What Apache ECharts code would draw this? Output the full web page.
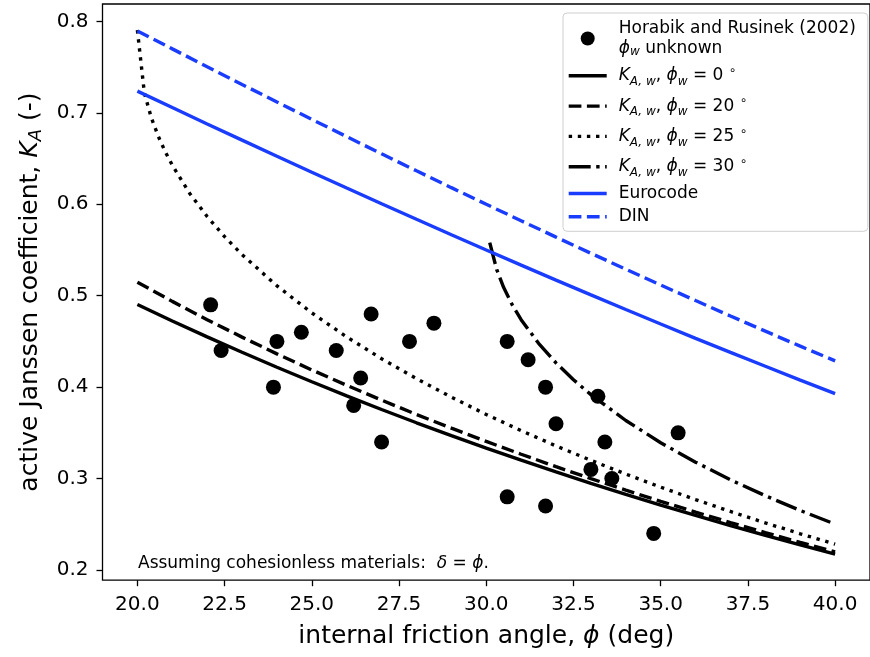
<!DOCTYPE html>
<html>
<head>
<meta charset="utf-8">
<script src="https://cdn.jsdelivr.net/npm/echarts@6/dist/echarts.min.js"></script>
<style>
  html, body { margin: 0; padding: 0; background: #fff; }
  #chart { width: 870px; height: 657px; }
</style>
</head>
<body>
<div id="chart"></div>
<script>
// Measured active Janssen coefficients (Horabik & Rusinek 2002)
const phiObs = [22.1, 22.4, 23.9, 24.0, 24.7, 25.7, 26.4, 26.2, 26.7, 27.0, 27.8, 28.5,
                30.6, 31.2, 31.7, 32.0, 33.2, 33.4, 33.0, 33.6, 30.6, 31.7, 34.8, 35.5];
const kObs   = [0.49, 0.44, 0.40, 0.45, 0.46, 0.44, 0.41, 0.38, 0.48, 0.34, 0.45, 0.47,
                0.45, 0.43, 0.40, 0.36, 0.39, 0.34, 0.31, 0.30, 0.28, 0.27, 0.24, 0.35];

// Friction angles shared by the smooth curves
const phiGrid = [20, 21, 22, 23, 24, 25, 26, 27, 28, 29, 30, 31, 32, 33, 34, 35, 36, 37, 38, 39, 40];
const kWall0  = [0.4903, 0.4724, 0.4550, 0.4381, 0.4217, 0.4059, 0.3905, 0.3755, 0.3610, 0.3470, 0.3333,
                 0.3201, 0.3073, 0.2948, 0.2827, 0.2710, 0.2596, 0.2486, 0.2379, 0.2275, 0.2174];
const kWall20 = [0.5148, 0.4938, 0.4738, 0.4547, 0.4364, 0.4188, 0.4020, 0.3858, 0.3701, 0.3551, 0.3406,
                 0.3266, 0.3130, 0.2999, 0.2873, 0.2751, 0.2633, 0.2519, 0.2408, 0.2301, 0.2198];
const kEuro   = [0.7238, 0.7058, 0.6879, 0.6702, 0.6526, 0.6351, 0.6178, 0.6006, 0.5836, 0.5667, 0.5500,
                 0.5335, 0.5171, 0.5009, 0.4849, 0.4691, 0.4534, 0.4380, 0.4228, 0.4077, 0.3929];
const kDin    = [0.7896, 0.7700, 0.7505, 0.7311, 0.7119, 0.6929, 0.6740, 0.6552, 0.6366, 0.6182, 0.6000,
                 0.5820, 0.5641, 0.5464, 0.5290, 0.5117, 0.4947, 0.4778, 0.4612, 0.4448, 0.4287];

const phiWall25 = [20, 20.2, 20.4, 20.6, 20.8, 21, 21.5, 22, 22.5, 23, 24, 25, 26, 27, 28, 29, 30,
                   31, 32, 33, 34, 35, 36, 37, 38, 39, 40];
const kWall25   = [0.7905, 0.7218, 0.6946, 0.6743, 0.6574, 0.6427, 0.6119, 0.5866, 0.5646, 0.5450,
                   0.5108, 0.4812, 0.4549, 0.4311, 0.4093, 0.3890, 0.3701, 0.3524, 0.3357, 0.3199,
                   0.3049, 0.2906, 0.2770, 0.2640, 0.2515, 0.2396, 0.2282];

const phiWall30 = [30.1, 30.3, 30.5, 30.75, 31, 31.5, 32, 32.5, 33, 34, 35, 36, 37, 38, 39, 40];
const kWall30   = [0.5580, 0.5286, 0.5089, 0.4897, 0.4738, 0.4479, 0.4265, 0.4081, 0.3918,
                   0.3635, 0.3392, 0.3179, 0.2986, 0.2812, 0.2651, 0.2501];

const xTicks = [20, 22.5, 25, 27.5, 30, 32.5, 35, 37.5, 40];
const yTicks = [0.2, 0.3, 0.4, 0.5, 0.6, 0.7, 0.8];

const FONT = 'DejaVu Sans';
const BLUE = '#1a3cff';
const LW = 3.4;

const pairs = (xs, ys) => xs.map((x, i) => [x, ys[i]]);

const names = ['obs', 'w0', 'w20', 'w25', 'w30', 'euro', 'din'];
const legendText = {
  obs:  '{h|Horabik and Rusinek (2002)}\n{ih|ϕ}{sh|w}{h| unknown}',
  w0:   '{i|K}{s|A, w}{t|, }{i|ϕ}{s|w}{t| = 0 }{sup|∘}',
  w20:  '{i|K}{s|A, w}{t|, }{i|ϕ}{s|w}{t| = 20 }{sup|∘}',
  w25:  '{i|K}{s|A, w}{t|, }{i|ϕ}{s|w}{t| = 25 }{sup|∘}',
  w30:  '{i|K}{s|A, w}{t|, }{i|ϕ}{s|w}{t| = 30 }{sup|∘}',
  euro: '{p|Eurocode}',
  din:  '{p|DIN}'
};

// Curves carry no point symbols; the transparent item style also keeps
// the legend key down to a plain line sample.
function lineSeries(name, xs, ys, color, dash) {
  return {
    name, type: 'line', data: pairs(xs, ys), symbol: 'none', smooth: false,
    lineStyle: { color, width: LW, type: dash, cap: 'butt', opacity: 1 },
    itemStyle: { color, opacity: 0 }, emphasis: { disabled: true }, z: 3
  };
}

const chart = echarts.init(document.getElementById('chart'), null, { renderer: 'canvas' });

chart.setOption({
  animation: false,
  textStyle: { fontFamily: FONT, color: '#000' },
  grid: {
    left: 102.5, top: 4, width: 772.6, height: 576.2,
    show: true, borderColor: '#000', borderWidth: 1.3, backgroundColor: 'transparent'
  },
  xAxis: {
    type: 'value', min: 19, max: 41,
    axisLine: { show: false },
    splitLine: { show: false },
    axisTick: { show: true, inside: false, length: 6, customValues: xTicks,
                lineStyle: { color: '#000', width: 1.3 } },
    axisLabel: { customValues: xTicks, margin: 15, fontSize: 20, fontFamily: FONT, color: '#000',
                 formatter: v => v.toFixed(1) },
    name: 'internal friction angle, {i|ϕ} (deg)',
    nameLocation: 'middle', nameGap: 44,
    nameTextStyle: { fontSize: 25, fontFamily: FONT, color: '#000',
      rich: { i: { fontSize: 25, fontStyle: 'italic', fontFamily: FONT } } }
  },
  yAxis: {
    type: 'value', min: 0.1888, max: 0.8191,
    axisLine: { show: false },
    splitLine: { show: false },
    axisTick: { show: true, inside: false, length: 6, customValues: yTicks,
                lineStyle: { color: '#000', width: 1.3 } },
    axisLabel: { customValues: yTicks, margin: 14, fontSize: 20, fontFamily: FONT, color: '#000',
                 formatter: v => v.toFixed(1) },
    name: 'active Janssen coefficient, {i|K}{s|A} (-)',
    nameLocation: 'middle', nameGap: 60, nameRotate: 90,
    nameTextStyle: { fontSize: 25, fontFamily: FONT, color: '#000',
      rich: {
        i: { fontSize: 25, fontStyle: 'italic', fontFamily: FONT },
        s: { fontSize: 18, fontStyle: 'italic', fontFamily: FONT, lineHeight: 18, padding: [12, 0, 0, 0] }
      } }
  },
  legend: {
    orient: 'vertical', left: 563, top: 13,
    itemWidth: 38, itemHeight: 14, itemGap: 6.3,
    padding: [7, 12, 6, 4],
    backgroundColor: 'rgba(255,255,255,0.8)', borderColor: '#cfcfcf', borderWidth: 1, borderRadius: 4,
    selectedMode: false,
    lineStyle: { width: LW },
    data: names,
    formatter: n => legendText[n],
    textStyle: {
      fontFamily: FONT, fontSize: 17, color: '#000', padding: [0, 0, 0, 7],
      rich: {
        h:   { fontSize: 17, lineHeight: 20, fontFamily: FONT },
        ih:  { fontSize: 17, lineHeight: 20, fontStyle: 'italic', fontFamily: FONT },
        sh:  { fontSize: 12, lineHeight: 14, fontStyle: 'italic', fontFamily: FONT, padding: [6, 0, 0, 0] },
        t:   { fontSize: 17, lineHeight: 25, fontFamily: FONT },
        i:   { fontSize: 17, lineHeight: 25, fontStyle: 'italic', fontFamily: FONT },
        s:   { fontSize: 12, lineHeight: 14, fontStyle: 'italic', fontFamily: FONT, padding: [12, 0, 0, 0] },
        sup: { fontSize: 12, lineHeight: 14, fontFamily: FONT, padding: [0, 0, 10, 0] },
        p:   { fontSize: 17, lineHeight: 15.5, fontFamily: FONT }
      }
    }
  },
  graphic: [{
    type: 'text', left: 138, top: 555, z: 10,
    style: {
      text: 'Assuming cohesionless materials:  {i|δ} = {i|ϕ}.',
      fontFamily: FONT, fontSize: 17, fill: '#000',
      rich: { i: { fontFamily: FONT, fontSize: 17, fontStyle: 'italic' } }
    }
  }],
  series: [
    {
      name: 'obs', type: 'scatter', data: pairs(phiObs, kObs),
      symbol: 'circle', symbolSize: 15, itemStyle: { color: '#000', opacity: 1 },
      emphasis: { disabled: true }, z: 2
    },
    lineSeries('w0',  phiGrid,   kWall0,  '#000', 'solid'),
    lineSeries('w20', phiGrid,   kWall20, '#000', [12.7, 5.5]),
    lineSeries('w25', phiWall25, kWall25, '#000', [3.4, 5.7]),
    lineSeries('w30', phiWall30, kWall30, '#000', [22, 5.5, 3.4, 5.5]),
    lineSeries('euro', phiGrid,  kEuro,   BLUE,   'solid'),
    lineSeries('din',  phiGrid,  kDin,    BLUE,   [12.7, 5.5])
  ]
});
</script>
</body>
</html>
